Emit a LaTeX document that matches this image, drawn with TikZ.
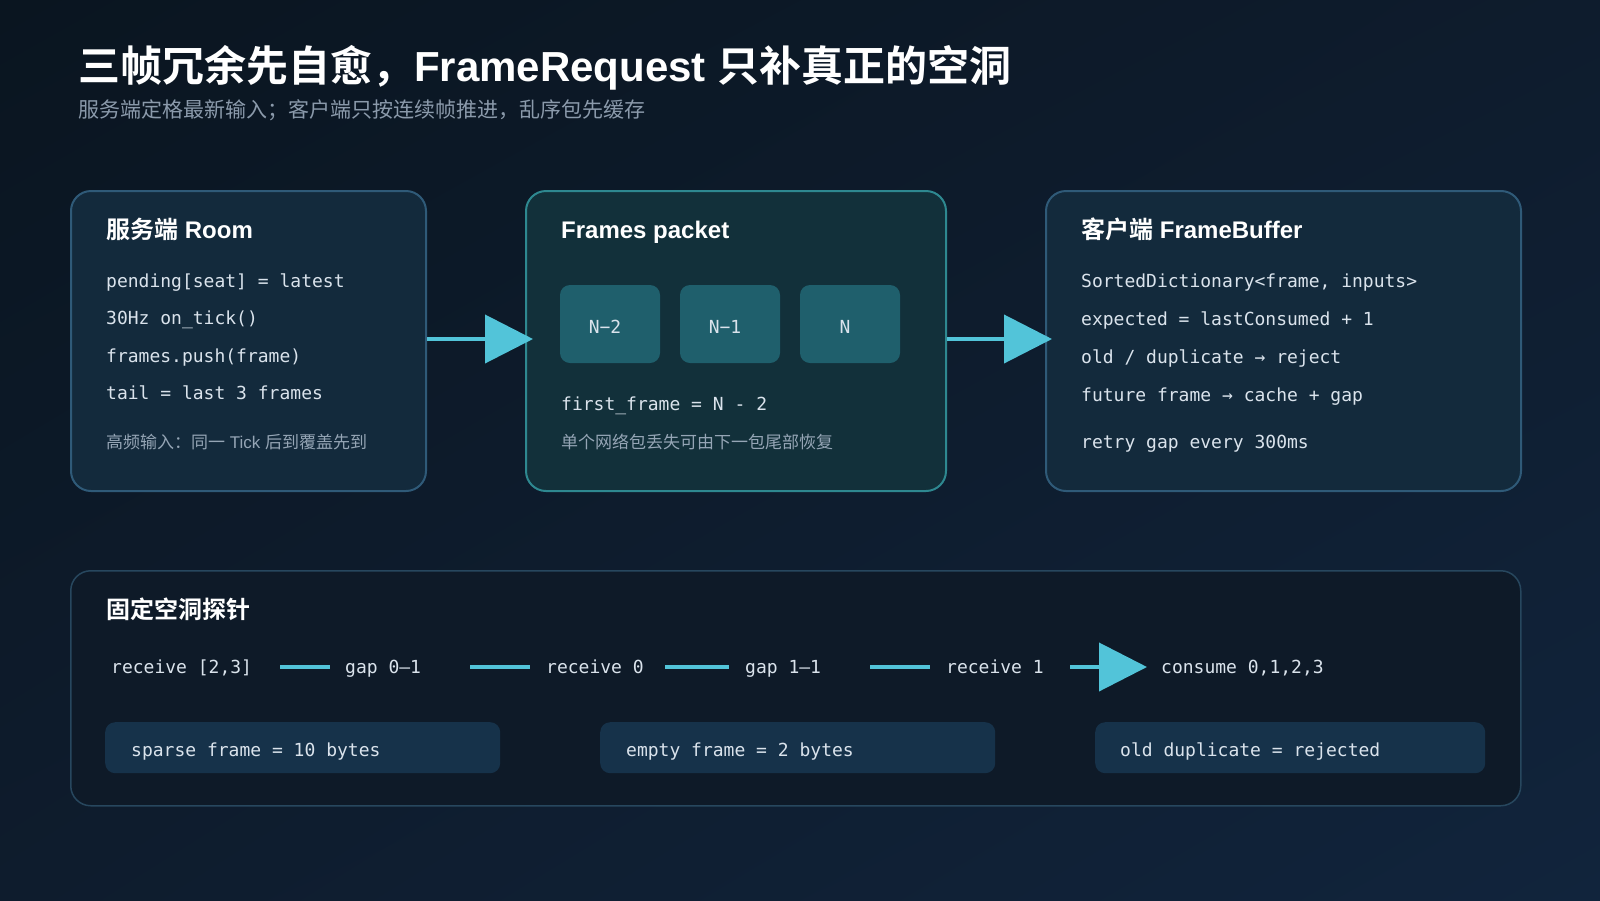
\documentclass[tikz,border=0pt]{standalone}
\usepackage{fontspec}
\setmainfont{Liberation Sans}
\setmonofont{DejaVu Sans Mono}
\newfontfamily\cjk{Noto Sans CJK SC}[BoldFont={Noto Sans CJK SC Bold}]
\usetikzlibrary{shapes}
\usetikzlibrary{shadings}
\usetikzlibrary{arrows.meta}

\definecolor{bgdark}{HTML}{0A1520}
\definecolor{bgmid}{HTML}{0E1C2D}
\definecolor{bgdeep}{HTML}{11243C}
\definecolor{cardfill}{HTML}{132A3C}
\definecolor{cardline}{HTML}{2F5A78}
\definecolor{pktfill}{HTML}{12303A}
\definecolor{pktline}{HTML}{2E8890}
\definecolor{cellfill}{HTML}{1F5F6C}
\definecolor{probefill}{HTML}{0E1A28}
\definecolor{probeline}{HTML}{27475E}
\definecolor{pillfill}{HTML}{16324A}
\definecolor{accent}{HTML}{52C4D9}
\definecolor{codetext}{HTML}{DAE3EC}
\definecolor{notetext}{HTML}{95A5B5}
\definecolor{subtext}{HTML}{8B9AAB}

\begin{document}
\begin{tikzpicture}[x=1pt,y=-1pt]
	\tikzstyle{box}=[rectangle, rounded corners=20pt, line width=2pt, anchor=north west, minimum height=300pt]
	\tikzstyle{card}=[box, fill=cardfill, draw=cardline]
	\tikzstyle{packet}=[box, fill=pktfill, draw=pktline]
	\tikzstyle{cell}=[rectangle, rounded corners=10pt, fill=cellfill, minimum width=100pt, minimum height=78pt]
	\tikzstyle{pill}=[rectangle, rounded corners=10pt, fill=pillfill, anchor=north west, minimum height=51pt]
	\tikzstyle{head}=[anchor=base west, inner sep=0pt, text=white, font=\fontsize{24}{28}\selectfont\bfseries]
	\tikzstyle{code}=[anchor=base west, inner sep=0pt, text=codetext, font=\fontsize{18}{22}\selectfont\ttfamily]
	\tikzstyle{note}=[anchor=base west, inner sep=0pt, text=notetext, font=\fontsize{17}{20}\selectfont]
	\tikzstyle{stage}=[code, text height=15pt, text depth=3pt]
	\tikzstyle{link}=[draw=accent, line width=4pt]
	\tikzstyle{flow}=[link, -{Triangle[length=48pt,width=48pt]}]

	% page and backdrop
	\useasboundingbox (0,0) rectangle (1600,900);
	\shade[upper left=bgdark, upper right=bgmid, lower left=bgmid, lower right=bgdeep] (0,0) rectangle (1600,900);

	\node[anchor=base west, inner sep=0pt, text=white, font=\fontsize{42}{50}\selectfont\bfseries] (title) at (78,81)
		{{\cjk 三帧冗余先自愈，}FrameRequest {\cjk 只补真正的空洞}};
	\node[anchor=base west, inner sep=0pt, text=subtext, font=\fontsize{21}{26}\selectfont\cjk] (subtitle) at (78,117)
		{服务端定格最新输入；客户端只按连续帧推进，乱序包先缓存};

	% server side
	\node[card, minimum width=355pt] (room) at (70,190) {};
	\node[head] (roomhead) at (106,238) {{\cjk 服务端} Room};
	\node[code] (r1) at (106,287) {pending[seat] = latest};
	\node[code] (r2) at (106,324.5) {30Hz on\_tick()};
	\node[code] (r3) at (106,362) {frames.push(frame)};
	\node[code] (r4) at (106,399.5) {tail = last 3 frames};
	\node[note] (roomnote) at (106,448) {{\cjk 高频输入：同一} Tick {\cjk 后到覆盖先到}};

	% packet on the wire
	\node[packet, minimum width=420pt] (pkt) at (525,190) {};
	\node[head] (pkthead) at (561,238) {Frames packet};
	\foreach \lbl [count=\i] in {N−2,N−1,N} {
		\node[cell] (cell\i) at (490+120*\i,324) {};
		\node[code, anchor=center, yshift=-2.5pt] (cellt\i) at ([xshift=-5pt]cell\i.center) {\lbl};
	}
	\node[code] (first) at (561,410) {first\_frame = N - 2};
	\node[note, font=\fontsize{17}{20}\selectfont\cjk] (pktnote) at (561,448) {单个网络包丢失可由下一包尾部恢复};

	% client side
	\node[card, minimum width=475pt] (buf) at (1045,190) {};
	\node[head] (bufhead) at (1081,238) {{\cjk 客户端} FrameBuffer};
	\node[code] (b1) at (1081,287) {SortedDictionary<frame, inputs>};
	\node[code] (b2) at (1081,325) {expected = lastConsumed + 1};
	\node[code] (b3) at (1081,363) {old / duplicate → reject};
	\node[code] (b4) at (1081,401) {future frame → cache + gap};
	\node[code] (b5) at (1081,448) {retry gap every 300ms};

	\draw[flow] ([yshift=2pt]room.east) -- ([xshift=8pt,yshift=2pt]pkt.west);
	\draw[flow] ([yshift=2pt]pkt.east) -- ([xshift=7pt,yshift=2pt]buf.west);

	% fixed gap probe
	\node[rectangle, rounded corners=20pt, line width=1.5pt, fill=probefill, draw=probeline, anchor=north west,
		minimum width=1450pt, minimum height=235pt] (probe) at (70,570) {};
	\node[head, font=\fontsize{24}{28}\selectfont\bfseries\cjk] (probehead) at (106,618) {固定空洞探针};

	\node[stage] (rx23) at (111,673) {receive [2,3]};
	\node[stage] (gap01) at (345,673) {gap 0–1};
	\node[stage] (rx0) at (546,673) {receive 0};
	\node[stage] (gap11) at (745,673) {gap 1–1};
	\node[stage] (rx1) at (946,673) {receive 1};
	\node[stage] (eat) at (1161,673) {consume 0,1,2,3};

	\draw[link, shorten <=28pt, shorten >=15pt] (rx23.east) -- (gap01.west);
	\draw[link, shorten <=49pt, shorten >=16pt] (gap01.east) -- (rx0.west);
	\draw[link, shorten <=21.5pt, shorten >=16pt] (rx0.east) -- (gap11.west);
	\draw[link, shorten <=49pt, shorten >=16pt] (gap11.east) -- (rx1.west);
	\draw[flow, shorten <=26.5pt, shorten >=14pt] (rx1.east) -- (eat.west);

	\node[pill, minimum width=395pt] (sparse) at (105,722) {};
	\node[pill, minimum width=395pt] (empty) at (600,722) {};
	\node[pill, minimum width=390pt] (dup) at (1095,722) {};
	\node[code] (sparset) at (131,756) {sparse frame = 10 bytes};
	\node[code] (emptyt) at (626,756) {empty frame = 2 bytes};
	\node[code] (dupt) at (1120,756) {old duplicate = rejected};
\end{tikzpicture}
\end{document}
